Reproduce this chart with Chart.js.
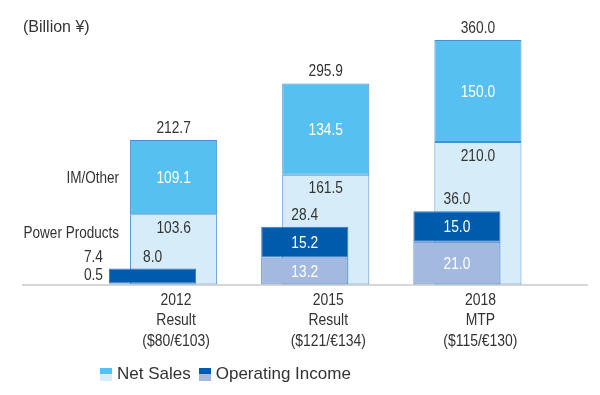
<!DOCTYPE html>
<html>
<head>
<meta charset="utf-8">
<script src="https://cdn.jsdelivr.net/npm/chart.js@4.4.1/dist/chart.umd.min.js"></script>
<style>
html,body{margin:0;padding:0;background:#fff;}
#wrap{position:relative;width:600px;height:395px;overflow:hidden;}
#c{position:absolute;left:0;top:0;}
#legend{position:absolute;left:100px;top:364px;height:20px;display:flex;align-items:center;font-family:"Liberation Sans",Arial,sans-serif;font-size:17px;color:#333;white-space:nowrap;}
.item{display:flex;align-items:center;margin-right:8px;}
.icon{width:12px;height:13px;margin-right:5px;display:flex;flex-direction:column;}
.icon span{flex:1;display:block;}
</style>
</head>
<body>
<div id="wrap">
<canvas id="c" width="600" height="395"></canvas>
<div id="legend">
  <div class="item"><div class="icon"><span style="background:#56C1F0"></span><span style="background:#D6ECF9"></span></div>Net Sales</div>
  <div class="item"><div class="icon"><span style="background:#005BAC"></span><span style="background:#A4B9E0"></span></div>Operating Income</div>
</div>
</div>
<script>
// ---- data ----
const categories = [["2012", "Result", "($80/€103)"], ["2015", "Result", "($121/€134)"], ["2018", "MTP", "($115/€130)"]];
const netSalesPower = [103.6, 161.5, 210.0];
const netSalesIM = [109.1, 134.5, 150.0];
const netSalesTotal = [212.7, 295.9, 360.0];
const opIncomePower = [0.5, 13.2, 21.0];
const opIncomeIM = [7.4, 15.2, 15.0];
const opIncomeTotal = [8.0, 28.4, 36.0];
const segmentNames = ["IM/Other", "Power Products"];
const unitLabel = "(Billion ¥)";

const REGULAR = '"Liberation Sans",Arial,sans-serif';
const TXT = '#333333';
const SQUEEZE = 0.82; // condensed face emulation

function narrowText(ctx, text, x, y, align, size) {
  ctx.save();
  ctx.font = size + 'px ' + REGULAR;
  ctx.textAlign = align;
  ctx.textBaseline = 'middle';
  ctx.translate(x, y);
  ctx.scale(SQUEEZE, 1);
  ctx.fillText(text, 0, 0);
  ctx.restore();
}

const labelsPlugin = {
  id: 'labelsPlugin',
  beforeDatasetsDraw(chart) {
    const ctx = chart.ctx, a = chart.chartArea;
    ctx.save();
    ctx.strokeStyle = '#C8C8C8';
    ctx.lineWidth = 1.5;
    ctx.beginPath();
    ctx.moveTo(22, a.bottom + 0.5);
    ctx.lineTo(588, a.bottom + 0.5);
    ctx.stroke();
    ctx.restore();
  },
  afterDatasetsDraw(chart) {
    const ctx = chart.ctx;
    const fmt = v => v.toFixed(1);
    const oiPP = chart.getDatasetMeta(0).data;
    const oiIM = chart.getDatasetMeta(1).data;
    const nsPP = chart.getDatasetMeta(2).data;
    const nsIM = chart.getDatasetMeta(3).data;
    const xs = chart.scales.x, a = chart.chartArea;
    const S = 16.8;
    for (let i = 0; i < categories.length; i++) {
      // category labels
      const cx = xs.getPixelForValue(i) + 13;
      ctx.fillStyle = TXT;
      categories[i].forEach((line, k) => narrowText(ctx, line, cx, a.bottom + 15.5 + k * 20.5, 'center', 17));
      // net sales
      const im = nsIM[i], pp = nsPP[i];
      ctx.fillStyle = TXT;
      narrowText(ctx, fmt(netSalesTotal[i]), im.x, im.y - 12, 'center', S);
      ctx.fillStyle = '#FFFFFF';
      narrowText(ctx, fmt(netSalesIM[i]), im.x, (im.y + im.base) / 2 + 1, 'center', S);
      ctx.fillStyle = TXT;
      narrowText(ctx, fmt(netSalesPower[i]), pp.x, pp.y + 14, 'center', S);
      // operating income
      const oi = oiIM[i], op = oiPP[i];
      ctx.fillStyle = TXT;
      narrowText(ctx, fmt(opIncomeTotal[i]), oi.x, oi.y - 11.5, 'center', S);
      const hIM = Math.abs(oi.base - oi.y), hPP = Math.abs(op.base - op.y);
      if (hIM < 18 || hPP < 18) {
        const left = oi.x - oi.width / 2 - 6;
        narrowText(ctx, fmt(opIncomeIM[i]), left, oi.y - 11.5, 'right', S);
        narrowText(ctx, fmt(opIncomePower[i]), left, op.base - 9.5, 'right', S);
      } else {
        ctx.fillStyle = '#FFFFFF';
        narrowText(ctx, fmt(opIncomeIM[i]), oi.x, (oi.y + oi.base) / 2 + 1, 'center', S);
        narrowText(ctx, fmt(opIncomePower[i]), op.x, (op.y + op.base) / 2 + 1, 'center', S);
      }
    }
    // segment names beside first net sales bar
    const im0 = nsIM[0], pp0 = nsPP[0];
    const nameX = im0.x - im0.width / 2 - 11;
    ctx.fillStyle = TXT;
    narrowText(ctx, segmentNames[0], nameX, (im0.y + im0.base) / 2 + 1, 'right', 16.5);
    narrowText(ctx, segmentNames[1], nameX, pp0.y + 19, 'right', 16.5);
    // unit
    ctx.save();
    ctx.textAlign = 'left';
    ctx.textBaseline = 'middle';
    ctx.font = '16px ' + REGULAR;
    ctx.fillText(unitLabel, 23, 28);
    ctx.restore();
  }
};

const common = {
  borderWidth: 1,
  borderSkipped: false,
  categoryPercentage: 0.2763,
  barPercentage: 4.143
};

new Chart(document.getElementById('c'), {
  type: 'bar',
  data: {
    labels: categories,
    datasets: [
      Object.assign({ label: 'OI Power Products', data: opIncomePower, stack: 'oi', yAxisID: 'y2', backgroundColor: '#A4B9E0', borderColor: '#3A78C6' }, common),
      Object.assign({ label: 'OI IM/Other', data: opIncomeIM, stack: 'oi', yAxisID: 'y2', backgroundColor: '#005BAC', borderColor: '#3A78C6' }, common),
      Object.assign({ label: 'NS Power Products', data: netSalesPower, stack: 'ns', yAxisID: 'y', backgroundColor: '#D6ECF9', borderColor: '#4A90D0' }, common),
      Object.assign({ label: 'NS IM/Other', data: netSalesIM, stack: 'ns', yAxisID: 'y', backgroundColor: '#56C1F0', borderColor: '#4A90D0' }, common)
    ]
  },
  options: {
    responsive: false,
    animation: false,
    devicePixelRatio: 1,
    layout: { padding: { left: 87, right: 56.5, top: 40, bottom: 0 } },
    plugins: { legend: { display: false }, tooltip: { enabled: false } },
    scales: {
      x: {
        grid: { display: false, drawTicks: false },
        border: { display: false },
        ticks: { display: false },
        afterFit(s) { s.height = 395 - 284.5; }
      },
      y: { display: false, stacked: true, min: 0, max: 360 },
      y2: { display: false, stacked: true, min: 0, max: 120, position: 'right' }
    }
  },
  plugins: [labelsPlugin]
});
</script>
</body>
</html>
